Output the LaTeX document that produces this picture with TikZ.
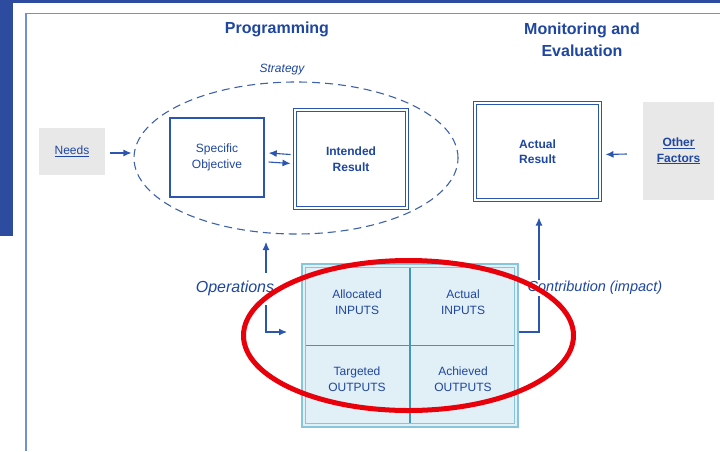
\documentclass[tikz,border=0pt]{standalone}
\usepackage{fontspec}
\setmainfont{Liberation Sans}
\usetikzlibrary{shapes.geometric,arrows.meta,calc}
\definecolor{band}{HTML}{2E4C9F}
\definecolor{framec}{HTML}{6F90D2}
\definecolor{tblue}{HTML}{1F46A0}
\definecolor{bline}{HTML}{2B55AE}
\definecolor{dashc}{HTML}{3F62AA}
\definecolor{grayfill}{HTML}{E8E8E8}
\definecolor{gridfill}{HTML}{E1EFF6}
\definecolor{gridline}{HTML}{86C5DA}
\definecolor{griddiv}{HTML}{3F98BC}
\definecolor{hlred}{HTML}{E8000B}
\newcommand\szA{\fontsize{12}{15.5}\selectfont}
\newcommand\szC{\fontsize{12}{16.5}\selectfont}
\begin{document}
\begin{tikzpicture}[x=1pt,y=-1pt,
  every node/.style={text=tblue},
  arr/.style={-{Latex[length=8pt,width=7pt]}, draw=bline, line width=1.1pt},
  box/.style={draw=bline, line width=1.4pt, fill=white, align=center, inner sep=0, font=\szA},
  dbox/.style={draw=bline, double=white, double distance=2pt, line width=1pt, align=center, inner sep=0, font=\bfseries\szA},
  grayb/.style={fill=grayfill, align=center, inner sep=0},
  celltxt/.style={align=center, font=\szC},
  ttl/.style={font=\bfseries\fontsize{16}{22}\selectfont, align=center}]
\useasboundingbox (0,0) rectangle (720,451);
\fill[white] (0,0) rectangle (720,451);
\fill[band] (0,0) rectangle (720,3);
\fill[band] (0,0) rectangle (13,236);
\draw[framec, line width=1.3pt] (26,451) -- (26,13.5) -- (720,13.5);

% titles
\node[ttl] (prog) at (277,29) {Programming};
\node[ttl] (me) at (582,39.5) {Monitoring and\\Evaluation};

% strategy ellipse
\node[ellipse, draw=dashc, dash pattern=on 8pt off 5pt, line width=1.1pt, minimum width=324pt, minimum height=152pt, inner sep=0] (strat) at (296,158) {};
\node[font=\itshape\fontsize{12}{14}\selectfont] (stratlbl) at (282,70) {Strategy};

% boxes
\node[grayb, minimum width=66pt, minimum height=47pt, font=\szA] (needs) at (72,151.5) {\underline{Needs}};
\node[box, minimum width=94pt, minimum height=79pt] (so) at (217,157.5) {Specific\\Objective};
\node[dbox, minimum width=112pt, minimum height=98pt] (ir) at (351,159) {Intended\\Result};
\node[dbox, minimum width=125pt, minimum height=97pt] (ar) at (537.5,151.5) {Actual\\Result};
\node[grayb, minimum width=71pt, minimum height=98pt, font=\bfseries\szA] (of) at (678.5,151) {\underline{Other}\\\underline{Factors}};

% grid
\node[draw=gridline, line width=1.1pt, fill=gridfill, minimum width=216pt, minimum height=163pt, inner sep=0] (grid) at (410,345.5) {};
\draw[gridline, line width=1.1pt] ([shift={(4,4)}]grid.north west) rectangle ([shift={(-4,-4)}]grid.south east);
\draw[griddiv, line width=1.4pt] ([yshift=-5pt]grid.north) -- ([yshift=5pt]grid.south);
\draw[griddiv, line width=1.4pt] ([xshift=5pt]grid.west) -- ([xshift=-5pt]grid.east);
\node[celltxt] (ai) at (357,302) {Allocated\\INPUTS};
\node[celltxt] (aci) at (463,302) {Actual\\INPUTS};
\node[celltxt] (to) at (357,379) {Targeted\\OUTPUTS};
\node[celltxt] (ao) at (463,379) {Achieved\\OUTPUTS};

% connectors
\draw[arr] ([xshift=5pt,yshift=-1.5pt]needs.east) -- ([xshift=-2pt,yshift=-1.5pt]needs.east -| strat.west);
\draw[arr] ([xshift=-4pt,yshift=4.5pt]ir.west) -- ([xshift=4pt,yshift=4.5pt]so.east);
\draw[arr] ([xshift=4pt,yshift=-4.5pt]so.east) -- ([xshift=-4pt,yshift=-4.5pt]ir.west);
\draw[arr] ([xshift=-16pt,yshift=-3pt]of.west) -- ([xshift=5pt,yshift=-3pt]ar.east);

\node[font=\itshape\fontsize{16}{19}\selectfont] (ops) at (235,288) {Operations};
\coordinate (opA) at (266,273);
\coordinate (opB) at (266,242);
\draw[arr] (opA) -- (opB);
\coordinate (opC) at (266,305);
\coordinate (opD) at (287,332);
\draw[arr] (opC) |- (opD);

\coordinate (ct) at (539,332);
\draw[arr] (grid.east |- ct) -- (ct) -- ([yshift=-17pt]ar.south -| ct);
\node[fill=white, inner sep=1pt, font=\itshape\fontsize{14.5}{17}\selectfont] (contr) at (595,288) {Contribution (impact)};

% highlight
\node[ellipse, draw=hlred, line width=5pt, minimum width=330pt, minimum height=150pt, inner sep=0] (hl) at (408.5,335.5) {};
\end{tikzpicture}
\end{document}
